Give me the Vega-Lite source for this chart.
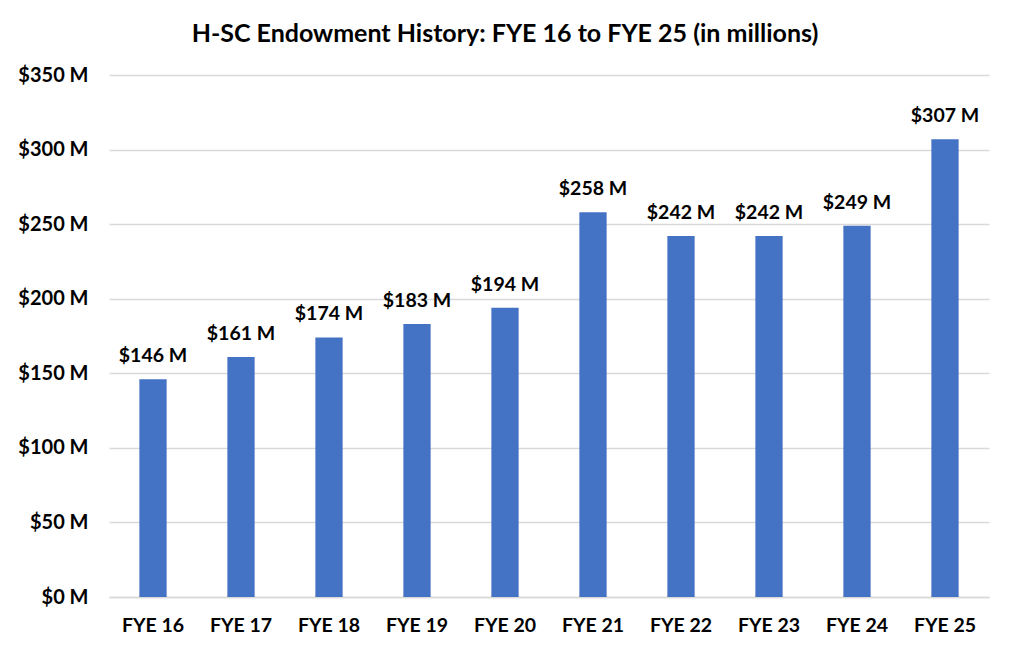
{
  "$schema": "https://vega.github.io/schema/vega-lite/v6.json",
  "width": 880,
  "height": 522,
  "autosize": "none",
  "padding": {"left": 109, "top": 75, "right": 20, "bottom": 54},
  "background": "white",
  "title": {
    "text": "H-SC Endowment History: FYE 16 to FYE 25 (in millions)",
    "anchor": "middle",
    "dx": -44,
    "offset": 18,
    "font": "Lato",
    "fontSize": 25,
    "fontWeight": "bold",
    "color": "#000000"
  },
  "data": {
    "values": [
      {"year": "FYE 16", "value": 146},
      {"year": "FYE 17", "value": 161},
      {"year": "FYE 18", "value": 174},
      {"year": "FYE 19", "value": 183},
      {"year": "FYE 20", "value": 194},
      {"year": "FYE 21", "value": 258},
      {"year": "FYE 22", "value": 242},
      {"year": "FYE 23", "value": 242},
      {"year": "FYE 24", "value": 249},
      {"year": "FYE 25", "value": 307}
    ]
  },
  "transform": [{"calculate": "'$' + datum.value + ' M'", "as": "label"}],
  "encoding": {
    "x": {
      "field": "year",
      "type": "ordinal",
      "sort": null,
      "scale": {"paddingInner": 0.69, "paddingOuter": 0.345},
      "axis": {
        "title": null,
        "labelAngle": 0,
        "labelFont": "Lato",
        "labelFontSize": 19.5,
        "labelFontWeight": "bold",
        "labelColor": "#000000",
        "labelPadding": 19,
        "ticks": false,
        "domainColor": "#d9d9d9",
        "domainWidth": 1.5,
        "grid": false
      }
    },
    "y": {
      "field": "value",
      "type": "quantitative",
      "scale": {"domain": [0, 350]},
      "axis": {
        "title": null,
        "values": [0, 50, 100, 150, 200, 250, 300, 350],
        "labelExpr": "'$' + datum.value + ' M'",
        "labelFont": "Lato",
        "labelFontSize": 20,
        "labelFontWeight": "bold",
        "labelColor": "#000000",
        "labelPadding": 21,
        "ticks": false,
        "domain": false,
        "gridColor": "#d9d9d9",
        "gridWidth": 1.5
      }
    }
  },
  "layer": [
    {"mark": {"type": "bar", "color": "#4472C4"}},
    {
      "mark": {"type": "text", "baseline": "middle", "dy": -23, "font": "Lato", "fontSize": 19.5, "fontWeight": "bold", "color": "#000000"},
      "encoding": {"text": {"field": "label", "type": "nominal"}}
    }
  ],
  "config": {"view": {"stroke": null}}
}
